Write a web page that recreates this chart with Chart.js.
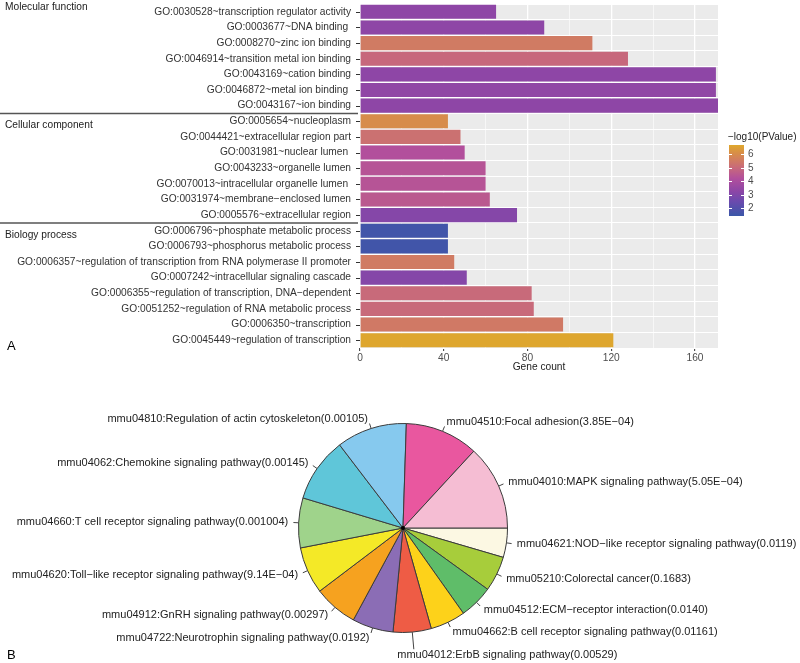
<!DOCTYPE html>
<html>
<head>
<meta charset="utf-8">
<title>GO / KEGG</title>
<script src="https://cdn.jsdelivr.net/npm/chart.js@4.4.1/dist/chart.umd.min.js"></script>
<style>
  html, body { margin: 0; padding: 0; background: #fff; }
  #panelA { position: absolute; left: 0; top: 0; width: 800px; height: 385px; }
  #panelB { position: absolute; left: 0; top: 385px; width: 800px; height: 278px; }
</style>
</head>
<body>
<div id="panelA"><canvas id="goChart"></canvas></div>
<div id="panelB"><canvas id="keggChart"></canvas></div>

<script>
// --- data (A: GO terms, top to bottom) ---
const goTerms = [
  'GO:0030528~transcription regulator activity',
  'GO:0003677~DNA binding ',
  'GO:0008270~zinc ion binding',
  'GO:0046914~transition metal ion binding',
  'GO:0043169~cation binding',
  'GO:0046872~metal ion binding ',
  'GO:0043167~ion binding',
  'GO:0005654~nucleoplasm',
  'GO:0044421~extracellular region part',
  'GO:0031981~nuclear lumen ',
  'GO:0043233~organelle lumen',
  'GO:0070013~intracellular organelle lumen ',
  'GO:0031974~membrane\u2212enclosed lumen',
  'GO:0005576~extracellular region',
  'GO:0006796~phosphate metabolic process',
  'GO:0006793~phosphorus metabolic process',
  'GO:0006357~regulation of transcription from RNA polymerase II promoter',
  'GO:0007242~intracellular signaling cascade',
  'GO:0006355~regulation of transcription, DNA\u2212dependent',
  'GO:0051252~regulation of RNA metabolic process',
  'GO:0006350~transcription',
  'GO:0045449~regulation of transcription'
];
const geneCounts = [65, 88, 111, 128, 170, 170, 171, 42, 48, 50, 60, 60, 62, 75, 42, 42, 45, 51, 82, 83, 97, 121];
const negLogP = [3.3, 3.3, 5.5, 4.95, 3.3, 3.35, 3.3, 6.0, 5.2, 4.2, 4.35, 4.35, 4.5, 3.1, 1.6, 1.6, 5.5, 3.1, 5.0, 5.0, 5.45, 6.6];
const groupNames = ['Molecular function', 'Cellular component', 'Biology process'];
const groupSizes = [7, 7, 8];
const countTicks = [0, 40, 80, 120, 160];
const legendTicks = [2, 3, 4, 5, 6];

// --- data (B: KEGG pathways, counter-clockwise from 3 o'clock) ---
const keggTerms = [
  'mmu04010:MAPK signaling pathway',
  'mmu04510:Focal adhesion',
  'mmu04810:Regulation of actin cytoskeleton',
  'mmu04062:Chemokine signaling pathway',
  'mmu04660:T cell receptor signaling pathway',
  'mmu04620:Toll\u2212like receptor signaling pathway',
  'mmu04912:GnRH signaling pathway',
  'mmu04722:Neurotrophin signaling pathway',
  'mmu04012:ErbB signaling pathway',
  'mmu04662:B cell receptor signaling pathway',
  'mmu04512:ECM\u2212receptor interaction',
  'mmu05210:Colorectal cancer',
  'mmu04621:NOD\u2212like receptor signaling pathway'
];
const keggPValues = ['5.05E\u221204', '3.85E\u221204', '0.00105', '0.00145', '0.001004', '9.14E\u221204',
  '0.00297', '0.0192', '0.00529', '0.01161', '0.0140', '0.1683', '0.0119'];
const keggCounts = [29, 25, 24, 22, 17, 16, 15, 14, 13, 12, 11.5, 12, 10];
const keggColors = ['#f5bdd3', '#e9579f', '#86c9ee', '#5fc6d9', '#9fd38b', '#f4e927', '#f6a21f',
  '#8b6db5', '#ee5c45', '#fdd21a', '#5fbd69', '#a7cd3b', '#fcf8e3'];

const FONT = "'Liberation Sans', Arial, Helvetica, sans-serif";

// colour scale for -log10(PValue)
const scaleMin = 1.45, scaleMax = 6.65;
const scaleStops = [
  [1.45, [58, 87, 168]],
  [2.5, [106, 74, 174]],
  [3.3, [142, 70, 166]],
  [4.2, [178, 79, 156]],
  [5.0, [200, 106, 122]],
  [5.6, [210, 126, 94]],
  [6.1, [216, 143, 70]],
  [6.65, [223, 168, 44]]
];
function colorFor(v) {
  for (let i = 1; i < scaleStops.length; i++) {
    const [v1, c1] = scaleStops[i];
    const [v0, c0] = scaleStops[i - 1];
    if (v <= v1 || i === scaleStops.length - 1) {
      const t = Math.min(Math.max((v - v0) / (v1 - v0), 0), 1);
      const c = c0.map((x, k) => Math.round(x + (c1[k] - x) * t));
      return `rgb(${c[0]},${c[1]},${c[2]})`;
    }
  }
}

document.addEventListener('DOMContentLoaded', () => {
  // grey ggplot panel
  const panelBg = {
    id: 'panelBg',
    beforeDraw(chart) {
      const { ctx, chartArea: a } = chart;
      ctx.save();
      ctx.fillStyle = '#ebebeb';
      ctx.fillRect(a.left, a.top, a.right - a.left, a.bottom - a.top);
      ctx.restore();
    }
  };

  // group labels, separators, y ticks and the colour bar
  const goExtras = {
    id: 'goExtras',
    afterDraw(chart) {
      const { ctx, chartArea: a } = chart;
      const y = chart.scales.y;
      ctx.save();
      ctx.strokeStyle = '#333';
      ctx.lineWidth = 1;
      goTerms.forEach((t, i) => {
        const py = Math.round(y.getPixelForValue(i)) + 0.5;
        ctx.beginPath(); ctx.moveTo(a.left - 4, py); ctx.lineTo(a.left, py); ctx.stroke();
      });

      const step = (a.bottom - a.top) / goTerms.length;
      let start = 0;
      ctx.font = `10.2px ${FONT}`;
      ctx.fillStyle = '#222';
      ctx.textBaseline = 'middle';
      ctx.textAlign = 'left';
      groupNames.forEach((g, k) => {
        const top = a.top + start * step;
        ctx.fillText(g, 5, k === 0 ? top + 3 : top + 12);
        if (k > 0) {
          ctx.strokeStyle = '#555';
          ctx.lineWidth = 1.5;
          ctx.beginPath(); ctx.moveTo(0, top); ctx.lineTo(a.left - 2, top); ctx.stroke();
        }
        start += groupSizes[k];
      });

      ctx.font = `13px ${FONT}`;
      ctx.fillStyle = '#000';
      ctx.fillText('A', 7, 346);

      // colour bar legend
      const bx = a.right + 11, bw = 15, bt = 145, bb = 216;
      const grad = ctx.createLinearGradient(0, bt, 0, bb);
      scaleStops.forEach(([v]) => grad.addColorStop((scaleMax - v) / (scaleMax - scaleMin), colorFor(v)));
      ctx.fillStyle = grad;
      ctx.fillRect(bx, bt, bw, bb - bt);
      ctx.font = `10px ${FONT}`;
      ctx.fillStyle = '#222';
      ctx.fillText('\u2212log10(PValue)', bx - 1, 137);
      ctx.fillStyle = '#4d4d4d';
      ctx.strokeStyle = '#fff';
      ctx.lineWidth = 1;
      legendTicks.forEach(v => {
        const py = Math.round(bt + (scaleMax - v) / (scaleMax - scaleMin) * (bb - bt)) + 0.5;
        ctx.beginPath(); ctx.moveTo(bx, py); ctx.lineTo(bx + 3, py); ctx.moveTo(bx + bw - 3, py); ctx.lineTo(bx + bw, py); ctx.stroke();
        ctx.fillText(String(v), bx + bw + 4, py);
      });
      ctx.restore();
    }
  };

  new Chart(document.getElementById('goChart'), {
    type: 'bar',
    data: {
      labels: goTerms,
      datasets: [{
        data: geneCounts,
        backgroundColor: negLogP.map(colorFor),
        borderWidth: 0,
        barPercentage: 0.9,
        categoryPercentage: 1
      }]
    },
    options: {
      indexAxis: 'y',
      responsive: true,
      maintainAspectRatio: false,
      animation: false,
      layout: { padding: { left: 0, right: 82, top: 4, bottom: 0 } },
      plugins: { legend: { display: false }, tooltip: { enabled: false } },
      scales: {
        x: {
          min: 0,
          max: 171,
          ticks: {
            stepSize: 20,
            includeBounds: false,
            autoSkip: false,
            maxRotation: 0,
            padding: 1,
            color: '#4d4d4d',
            font: { family: FONT, size: 10.2 },
            callback: v => countTicks.includes(v) ? v : ''
          },
          grid: {
            color: '#fff',
            lineWidth: c => (c.tick && c.tick.value % 40 === 0) ? 1.3 : 0.6,
            tickLength: 3,
            tickWidth: 1,
            tickColor: c => (c.tick && c.tick.value % 40 === 0) ? '#333' : 'rgba(0,0,0,0)'
          },
          border: { display: false },
          title: {
            display: true,
            text: 'Gene count',
            color: '#222',
            font: { family: FONT, size: 10.2 },
            padding: { top: 0, bottom: 12 }
          },
          afterFit: s => { s.height = 37; s.paddingLeft = 0; s.paddingRight = 0; }
        },
        y: {
          ticks: {
            autoSkip: false,
            padding: 9,
            color: '#333',
            font: { family: FONT, size: 10.2 }
          },
          grid: { color: '#fff', lineWidth: 1, offset: true, drawTicks: false },
          border: { display: false },
          afterFit: s => { s.width = 360; s.paddingTop = 0; s.paddingBottom = 0; }
        }
      }
    },
    plugins: [panelBg, goExtras]
  });

  // --- B: pie with R-style outside labels ---
  const labelNudge = { 'mmu04012': [-16, 12] };
  const pieLabels = {
    id: 'pieLabels',
    afterDraw(chart) {
      const { ctx } = chart;
      const meta = chart.getDatasetMeta(0);
      ctx.save();
      ctx.font = `11px ${FONT}`;
      ctx.fillStyle = '#222';
      ctx.strokeStyle = '#444';
      ctx.lineWidth = 1;
      ctx.textBaseline = 'middle';
      let cx = 0, cy = 0;
      meta.data.forEach((arc, i) => {
        const p = arc.getProps(['x', 'y', 'startAngle', 'endAngle', 'outerRadius'], true);
        cx = p.x; cy = p.y;
        const a = (p.startAngle + p.endAngle) / 2;
        const r = p.outerRadius;
        const text = chart.data.labels[i];
        const nudge = labelNudge[text.split(':')[0]] || [0, 0];
        const cos = Math.cos(a), sin = Math.sin(a);
        const tick = r * 1.05 + nudge[1];
        ctx.beginPath();
        ctx.moveTo(p.x + r * cos, p.y + r * sin);
        ctx.lineTo(p.x + tick * cos, p.y + tick * sin);
        ctx.stroke();
        ctx.textAlign = cos < 0 ? 'right' : 'left';
        ctx.fillText(text, p.x + r * 1.1 * cos + nudge[0], p.y + r * 1.1 * sin + nudge[1]);
      });
      ctx.fillStyle = '#000';
      ctx.beginPath(); ctx.arc(cx, cy, 2, 0, Math.PI * 2); ctx.fill();
      ctx.font = `13px ${FONT}`;
      ctx.textAlign = 'left';
      ctx.fillText('B', 7, 270);
      ctx.restore();
    }
  };

  const pieLabelsText = keggTerms.map((t, i) => `${t}(${keggPValues[i]})`);
  new Chart(document.getElementById('keggChart'), {
    type: 'pie',
    data: {
      // R draws counter-clockwise, Chart.js clockwise: reverse the order
      labels: pieLabelsText.slice().reverse(),
      datasets: [{
        data: keggCounts.slice().reverse(),
        backgroundColor: keggColors.slice().reverse(),
        borderColor: '#3b3b3b',
        borderWidth: 1
      }]
    },
    options: {
      rotation: 90,
      responsive: true,
      maintainAspectRatio: false,
      animation: false,
      layout: { padding: { left: 298, right: 292, top: 38, bottom: 30 } },
      plugins: { legend: { display: false }, tooltip: { enabled: false } }
    },
    plugins: [pieLabels]
  });
});
</script>
</body>
</html>
